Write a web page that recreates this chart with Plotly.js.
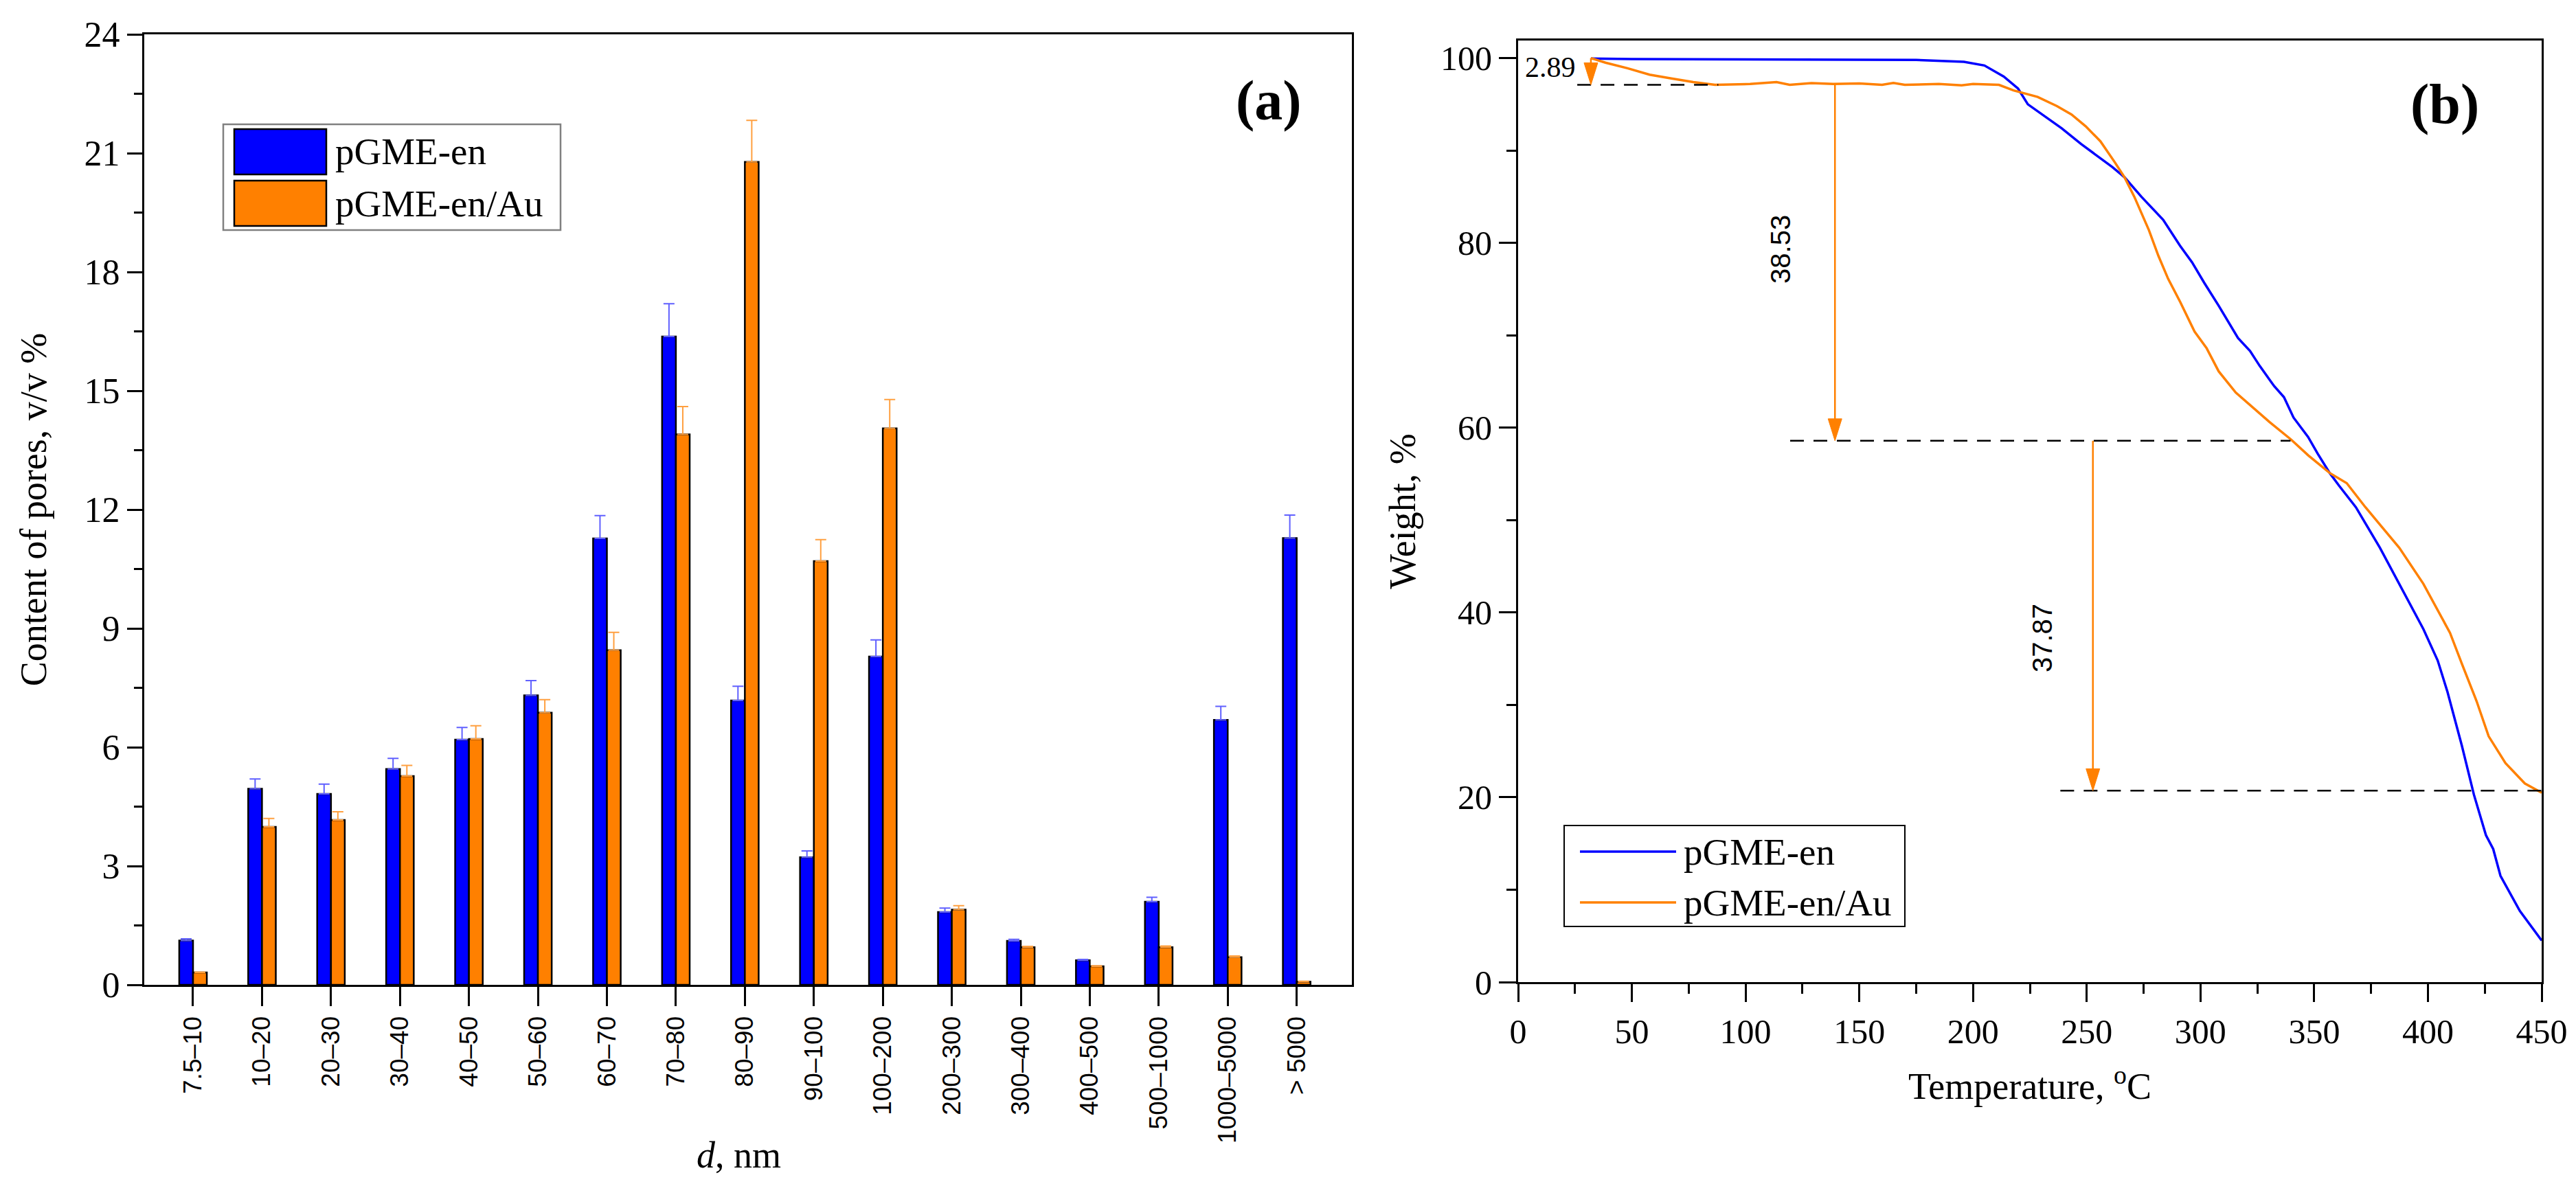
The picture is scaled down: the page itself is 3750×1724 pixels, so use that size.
<!DOCTYPE html>
<html>
<head>
<meta charset="utf-8">
<script src="https://cdn.plot.ly/plotly-3.0.1.min.js"></script>
<style>
  html, body { margin: 0; padding: 0; background: #fff; }
  #chart { width: 3750px; height: 1724px; }
</style>
</head>
<body>
<div id="chart"></div>
<script>
// ---- data, panel (a): pore size distribution ----
const poreClasses = ['7.5–10', '10–20', '20–30', '30–40', '40–50', '50–60', '60–70', '70–80',
  '80–90', '90–100', '100–200', '200–300', '300–400', '400–500', '500–1000', '1000–5000', '> 5000'];
const poreBase = [1.12, 4.95, 4.82, 5.45, 6.19, 7.31, 11.27, 16.37, 7.18, 3.22, 8.29, 1.84, 1.11, 0.62, 2.10, 6.69, 11.28];
const poreBaseErr = [0.04, 0.25, 0.25, 0.27, 0.31, 0.37, 0.58, 0.83, 0.36, 0.16, 0.42, 0.10, 0.04, 0.02, 0.11, 0.34, 0.58];
const poreAu = [0.31, 3.99, 4.16, 5.27, 6.21, 6.87, 8.45, 13.90, 20.78, 10.70, 14.05, 1.90, 0.95, 0.47, 0.95, 0.70, 0.08];
const poreAuErr = [0.01, 0.21, 0.21, 0.27, 0.33, 0.33, 0.45, 0.70, 1.05, 0.54, 0.73, 0.10, 0.02, 0.01, 0.03, 0.03, 0.01];

// ---- data, panel (b): TGA curves ----
const tempBase = [32, 50, 100, 150, 175, 196, 205, 213.5, 219.8, 224.1, 232.6, 239, 247.5, 256, 261.3, 266.6,
  274, 283.6, 291, 296.3, 301.6, 308, 312.2, 316.5, 321.8, 326, 332.4, 336.7, 340.9, 347.3, 351.5, 356.8,
  361, 368.3, 378.9, 388.4, 398, 404.3, 408.6, 414.9, 420.2, 425.5, 428.7, 431.9, 440.4, 450];
const weightBase = [99.95, 99.9, 99.85, 99.8, 99.8, 99.6, 99.2, 98.0, 96.7, 95.0, 93.5, 92.4, 90.7, 89.2, 88.2, 87.1,
  85.0, 82.5, 79.7, 77.9, 75.7, 73.2, 71.5, 69.7, 68.3, 66.7, 64.5, 63.3, 61.1, 59.0, 57.2, 55.1,
  53.7, 51.4, 47.0, 42.6, 38.2, 34.8, 31.4, 25.6, 20.3, 15.9, 14.4, 11.5, 7.7, 4.5];
const tempAu = [32, 38.4, 48.1, 57.8, 67.4, 77, 86.6, 102, 113.6, 119.4, 129, 138.6, 150, 160, 165, 170, 185, 195,
  200, 211.4, 217.8, 228.4, 236.9, 243.3, 249.6, 256, 262.4, 266.6, 270.9, 277.3, 281.5, 285.8, 291.1, 297.4,
  302.7, 308, 315.5, 322.9, 330.4, 339.9, 347.4, 356.8, 364.3, 372.5, 387.4, 398, 409.7, 415, 421.4, 426.7,
  434.1, 442.6, 450];
const weightAu = [100.0, 99.5, 98.9, 98.2, 97.8, 97.4, 97.1, 97.2, 97.4, 97.1, 97.3, 97.2, 97.25, 97.1, 97.3, 97.1, 97.2, 97.05,
  97.2, 97.1, 96.5, 95.8, 94.8, 93.9, 92.6, 91.0, 88.7, 87.1, 85.0, 81.4, 78.6, 76.1, 73.6, 70.4,
  68.6, 66.1, 63.8, 62.2, 60.6, 58.7, 57.0, 55.1, 54.0, 51.4, 47.0, 43.1, 37.8, 34.4, 30.4, 26.6,
  23.7, 21.5, 20.5];

// mass loss steps and where they were marked
const lossSteps = [2.89, 38.53, 37.87];
const lossArrowX = [32, 139.3, 252.7];
const lossLabelX = [26, 115.5, 230.5];
const lossDashFrom = [26, 119.6, 238.4];
const lossDashTo = [88, 339.6, 450];

const seriesNames = ['pGME-en', 'pGME-en/Au'];
const BLUE = '#0000ff';
const ORANGE = '#ff8000';

const W = 3750, H = 1724;
function px(x) { return x / W; }
function py(y) { return 1 - y / H; }

const serif = 'Liberation Serif, Times New Roman, serif';
const sans = 'Liberation Sans, Arial, sans-serif';

// panel (b) axes, in px of the figure
const bLeft = 2210, bRight = 3700, bTop = 59, bBottom = 1430;
const bXRange = [0, 450], bYRange = [0, 101.9];
const degPerPx = (bXRange[1] - bXRange[0]) / (bRight - bLeft);
const pctPerPx = (bYRange[1] - bYRange[0]) / (bBottom - bTop);

function zeros(n) { return new Array(n).fill(0); }

let traces = [
  {
    type: 'bar', x: poreClasses, y: poreBase, name: seriesNames[0],
    xaxis: 'x', yaxis: 'y', showlegend: false,
    marker: { color: BLUE, line: { color: '#000', width: 2.5 } },
    error_y: { type: 'data', array: poreBaseErr, arrayminus: zeros(poreBase.length), symmetric: false,
      color: '#6060ff', thickness: 2, width: 8 }
  },
  {
    type: 'bar', x: poreClasses, y: poreAu, name: seriesNames[1],
    xaxis: 'x', yaxis: 'y', showlegend: false,
    marker: { color: ORANGE, line: { color: '#000', width: 2.5 } },
    error_y: { type: 'data', array: poreAuErr, arrayminus: zeros(poreAu.length), symmetric: false,
      color: '#ffa040', thickness: 2, width: 8 }
  },
  {
    type: 'scatter', mode: 'lines', x: tempBase, y: weightBase, name: seriesNames[0],
    xaxis: 'x2', yaxis: 'y2', showlegend: false,
    line: { color: BLUE, width: 3.5 }
  },
  {
    type: 'scatter', mode: 'lines', x: tempAu, y: weightAu, name: seriesNames[1],
    xaxis: 'x2', yaxis: 'y2', showlegend: false,
    line: { color: ORANGE, width: 3.5 }
  }
];

// levels of the step lines, from 100 % down
let levels = [100];
for (let i = 0; i < lossSteps.length; i++) {
  levels.push(Math.round((levels[i] - lossSteps[i]) * 100) / 100);
}

let shapes = [];
let annotations = [];

// dashed levels and downward arrows
const headHalf = 10 * degPerPx;
const headLen = 32 * pctPerPx;
for (let i = 0; i < lossSteps.length; i++) {
  let ax = lossArrowX[i], yFrom = levels[i], yTo = levels[i + 1];
  shapes.push({
    type: 'line', xref: 'x2', yref: 'y2',
    x0: lossDashFrom[i], x1: lossDashTo[i], y0: yTo, y1: yTo,
    line: { color: '#000', width: 2.5, dash: '20px,14px' }
  });
  shapes.push({
    type: 'line', xref: 'x2', yref: 'y2',
    x0: ax, x1: ax, y0: yFrom, y1: yTo + headLen * 0.5,
    line: { color: ORANGE, width: 2.5 }
  });
  shapes.push({
    type: 'path', xref: 'x2', yref: 'y2',
    path: 'M' + (ax - headHalf) + ',' + (yTo + headLen) + ' L' + ax + ',' + yTo +
      ' L' + (ax + headHalf) + ',' + (yTo + headLen) + ' Z',
    fillcolor: ORANGE, line: { color: ORANGE, width: 1 }
  });
}
// step labels
annotations.push({
  xref: 'x2', yref: 'y2', x: lossLabelX[0], y: levels[1], xanchor: 'right', yanchor: 'bottom',
  text: lossSteps[0].toFixed(2), showarrow: false, font: { family: serif, size: 42, color: '#000' }
});
annotations.push({
  xref: 'x2', yref: 'y2', x: lossLabelX[1], y: (levels[1] + levels[2]) / 2 + 1.5,
  text: lossSteps[1].toFixed(2), showarrow: false, textangle: -90,
  font: { family: sans, size: 40, color: '#000' }
});
annotations.push({
  xref: 'x2', yref: 'y2', x: lossLabelX[2], y: (levels[2] + levels[3]) / 2 - 2.4,
  text: lossSteps[2].toFixed(2), showarrow: false, textangle: -90,
  font: { family: sans, size: 40, color: '#000' }
});

// panel letters
annotations.push({
  xref: 'paper', yref: 'paper', x: px(1847), y: py(146), xanchor: 'center', yanchor: 'middle',
  text: '<b>(a)</b>', showarrow: false, font: { family: serif, size: 82, color: '#000' }
});
annotations.push({
  xref: 'paper', yref: 'paper', x: px(3559), y: py(151), xanchor: 'center', yanchor: 'middle',
  text: '<b>(b)</b>', showarrow: false, font: { family: serif, size: 82, color: '#000' }
});

// x title of (a) sits between the long rotated tick labels
annotations.push({
  xref: 'paper', yref: 'paper', x: px(1075), y: py(1682), xanchor: 'center', yanchor: 'middle',
  text: '<i>d</i>, nm', showarrow: false, font: { family: serif, size: 54, color: '#000' }
});

// legend (a): boxed, with large swatches
shapes.push({ type: 'rect', xref: 'paper', yref: 'paper', x0: px(325), x1: px(816), y0: py(335), y1: py(181),
  line: { color: '#808080', width: 2.5 }, fillcolor: 'rgba(0,0,0,0)' });
const legendColors = [BLUE, ORANGE];
const legendARows = [[188, 254], [263, 329]];
for (let i = 0; i < 2; i++) {
  shapes.push({ type: 'rect', xref: 'paper', yref: 'paper', x0: px(341), x1: px(475),
    y0: py(legendARows[i][1]), y1: py(legendARows[i][0]),
    line: { color: '#000', width: 2.5 }, fillcolor: legendColors[i] });
  annotations.push({ xref: 'paper', yref: 'paper', x: px(486), y: py((legendARows[i][0] + legendARows[i][1]) / 2),
    xanchor: 'left', yanchor: 'middle', text: seriesNames[i], showarrow: false,
    font: { family: serif, size: 55, color: '#000' } });
}

// legend (b): boxed, line samples
shapes.push({ type: 'rect', xref: 'paper', yref: 'paper', x0: px(2277), x1: px(2773), y0: py(1349), y1: py(1202),
  line: { color: '#000', width: 2 }, fillcolor: 'rgba(0,0,0,0)' });
const legendBRows = [1240, 1314];
for (let i = 0; i < 2; i++) {
  shapes.push({ type: 'line', xref: 'paper', yref: 'paper', x0: px(2300), x1: px(2440),
    y0: py(legendBRows[i]), y1: py(legendBRows[i]), line: { color: legendColors[i], width: 3.5 } });
  annotations.push({ xref: 'paper', yref: 'paper', x: px(2449), y: py(legendBRows[i]),
    xanchor: 'left', yanchor: 'middle', text: seriesNames[i], showarrow: false,
    font: { family: serif, size: 55, color: '#000' } });
}

const axisBase = {
  showline: true, linecolor: '#000', linewidth: 3, mirror: true,
  ticks: 'outside', tickcolor: '#000', tickwidth: 3,
  showgrid: false, zeroline: false
};

let layout = {
  width: W, height: H,
  margin: { l: 0, r: 0, t: 0, b: 0 },
  paper_bgcolor: '#fff', plot_bgcolor: '#fff',
  showlegend: false,
  barmode: 'group', bargap: 0.6, bargroupgap: 0,
  xaxis: Object.assign({}, axisBase, {
    domain: [px(210), px(1968)], anchor: 'y',
    type: 'category', range: [-0.707, 16.8],
    ticklen: 28, tickangle: -90,
    tickfont: { family: sans, size: 37, color: '#000' }
  }),
  yaxis: Object.assign({}, axisBase, {
    domain: [py(1434), py(50)], anchor: 'x',
    range: [0, 24], tick0: 0, dtick: 3, ticklen: 22,
    minor: { ticks: 'outside', dtick: 1.5, tick0: 0, ticklen: 12, tickwidth: 3, tickcolor: '#000' },
    tickfont: { family: serif, size: 52, color: '#000' },
    title: { text: 'Content of pores, v/v %', font: { family: serif, size: 54, color: '#000' }, standoff: 38 }
  }),
  xaxis2: Object.assign({}, axisBase, {
    domain: [px(bLeft), px(bRight)], anchor: 'y2',
    range: bXRange, tick0: 0, dtick: 50, ticklen: 26,
    minor: { ticks: 'outside', dtick: 25, tick0: 0, ticklen: 14, tickwidth: 3, tickcolor: '#000' },
    tickfont: { family: serif, size: 50, color: '#000' },
    title: { text: 'Temperature, <sup>o</sup>C', font: { family: serif, size: 54, color: '#000' }, standoff: 34 }
  }),
  yaxis2: Object.assign({}, axisBase, {
    domain: [py(bBottom), py(bTop)], anchor: 'x2',
    range: bYRange, tick0: 0, dtick: 20, ticklen: 25,
    minor: { ticks: 'outside', dtick: 10, tick0: 0, ticklen: 14, tickwidth: 3, tickcolor: '#000' },
    tickfont: { family: serif, size: 50, color: '#000' },
    title: { text: 'Weight, %', font: { family: serif, size: 54, color: '#000' }, standoff: 20 }
  }),
  shapes: shapes,
  annotations: annotations
};

Plotly.newPlot('chart', traces, layout, { staticPlot: true });
</script>
</body>
</html>
